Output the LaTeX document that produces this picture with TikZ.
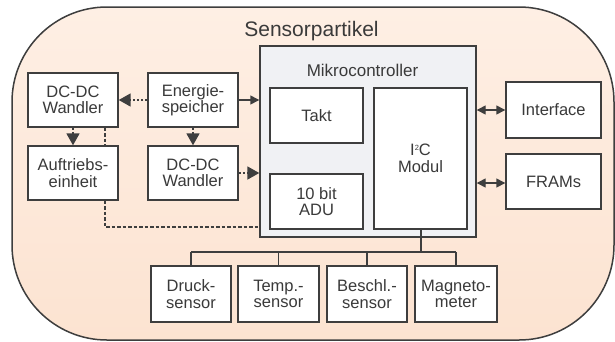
\documentclass[tikz,border=0pt]{standalone}
\usepackage{fontspec}
\setmainfont{Liberation Sans}
\usetikzlibrary{arrows.meta,positioning}
\definecolor{framecol}{RGB}{62,62,62}
\definecolor{textcol}{RGB}{58,58,58}
\definecolor{peachtop}{RGB}{254,239,228}
\definecolor{peachbot}{RGB}{252,227,209}
\definecolor{mcfill}{RGB}{240,241,244}
\newcommand{\boxfont}{\fontsize{16.5}{16.5}\selectfont}

\begin{document}
\begin{tikzpicture}[
    x=1pt, y=-1pt,
    block/.style={draw=framecol, line width=1.4pt, fill=white, inner sep=0pt, align=center,
                  font=\boxfont, text=textcol, minimum width=90pt, minimum height=54pt},
    inblock/.style={block, minimum width=93pt, minimum height=55pt},
    sensorbox/.style={block, minimum width=80pt, minimum height=56pt},
    dotarr/.style={-{Triangle[length=12pt,width=13pt]}, line width=1.8pt, color=framecol,
                   dash pattern=on 2.2pt off 2pt},
    solarr/.style={-{Triangle[length=9pt,width=9pt]}, line width=1.4pt, color=framecol},
    biarr/.style={{Triangle[length=9pt,width=9pt]}-{Triangle[length=9pt,width=9pt]}, line width=1.4pt, color=framecol},
    dashline/.style={line width=1.4pt, color=framecol, dash pattern=on 3.5pt off 2pt},
    busline/.style={line width=1.4pt, color=framecol},
]
\useasboundingbox (0,0) rectangle (615,341);

% ============ SENSORPARTIKEL FRAME ============
\path[draw=framecol, line width=1.5pt, top color=peachtop, bottom color=peachbot, rounded corners=95pt]
  (12,7) rectangle (614,340);
\node[anchor=base, font=\fontsize{21}{22}\selectfont, text=textcol] (title) at (311.5,36) {Sensorpartikel};

% ============ ENERGY PATH ============
\node[block] (dcA) at (73,100) {DC-DC\\Wandler};
\node[block] (energie) at (193,100) {Energie-\\speicher};
\node[block] (auftrieb) at (73,173) {Auftriebs-\\einheit};
\node[block] (dcB) at (193,173) {DC-DC\\Wandler};

% ============ MIKROCONTROLLER ============
\node[draw=framecol, line width=1.4pt, fill=mcfill, minimum width=216pt, minimum height=191pt] (mc) at (368,141.5) {};
\node[anchor=base, font=\fontsize{17}{18}\selectfont, text=textcol] (mclabel) at (362.5,76) {Mikrocontroller};
\node[inblock] (takt) at (316.5,115.5) {Takt};
\node[inblock] (adu) at (316.5,201.5) {10 bit\\ADU};
\node[inblock, minimum height=141pt] (itwoc) at (420.5,158.5) {I\raisebox{5.5pt}{\fontsize{7.5}{7.5}\selectfont 2}C\\Modul};

% ============ PERIPHERALS ============
\node[block, minimum width=95pt, minimum height=56pt] (interface) at (553.5,110) {Interface};
\node[block, minimum width=95pt, minimum height=55pt] (frams) at (553.5,181.5) {FRAMs};

\node[sensorbox] (druck) at (191,294) {Druck-\\sensor};
\node[sensorbox, minimum width=81pt] (temp) at (278.5,294) {Temp.-\\sensor};
\node[sensorbox] (beschl) at (367,294) {Beschl.-\\sensor};
\node[sensorbox, minimum width=82pt] (magneto) at (456,294) {Magneto-\\meter};

% ============ CONNECTIONS ============
\draw[dotarr] (energie.west) -- (dcA.east);
\draw[solarr] (energie.east) -- (energie.east -| mc.west);
\draw[dotarr] (energie.south) -- (dcB.north);
\draw[dotarr] (dcA.south) -- (auftrieb.north);
\draw[dotarr] (dcB.east) -- (dcB.east -| mc.west);
\draw[dashline] ([xshift=32pt]dcA.south) -- ([xshift=32pt]auftrieb.south |- auftrieb.north);

% auxiliary supply line into the controller, just above the ADU bottom
\coordinate (auxin) at (260,227);
\draw[dashline] ([xshift=32pt]auftrieb.south) |- (auxin);

\draw[biarr] (interface.west -| mc.east) -- (interface.west);
\draw[biarr] ([yshift=-1.5pt]frams.west -| mc.east) -- ([yshift=-1.5pt]frams.west);

% ============ SENSOR BUS ============
\coordinate (bus) at (421,252);
\draw[busline] (itwoc.south -| bus) -- (bus);
\draw[busline] (druck.north |- bus) -- (magneto.north |- bus);
\foreach \s in {druck,temp,beschl,magneto}
  \draw[busline] (\s.north |- bus) -- (\s.north);

\end{tikzpicture}
\end{document}
